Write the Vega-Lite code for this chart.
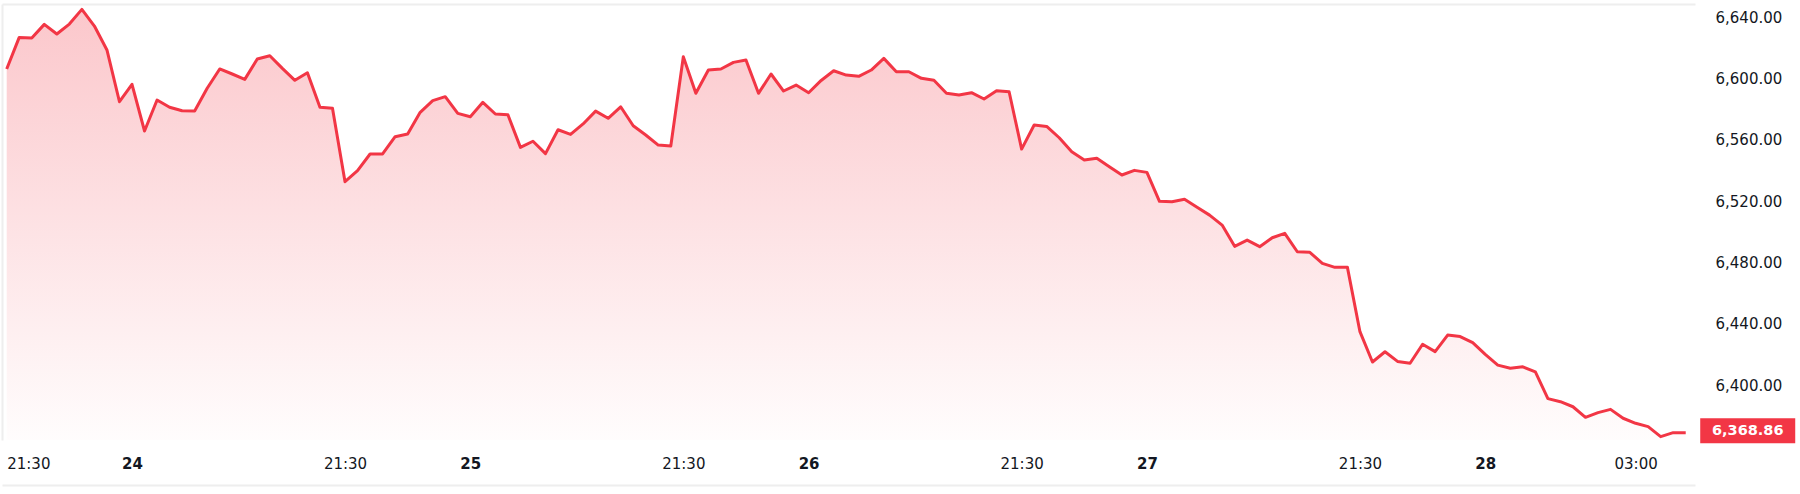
{
  "$schema": "https://vega.github.io/schema/vega-lite/v6.json",
  "autosize": {"type": "none"},
  "width": 1693,
  "height": 436,
  "padding": {"left": 2, "top": 4, "right": 105, "bottom": 54},
  "background": "white",
  "config": {"view": {"stroke": null}, "font": "DejaVu Sans"},
  "data": {"values": [
    {"i":0,"v":6606.3},{"i":1,"v":6626.9},{"i":2,"v":6626.5},{"i":3,"v":6635.4},{"i":4,"v":6629.1},
    {"i":5,"v":6635.6},{"i":6,"v":6645.2},{"i":7,"v":6634.3},{"i":8,"v":6618.7},{"i":9,"v":6584.9},
    {"i":10,"v":6596.3},{"i":11,"v":6565.8},{"i":12,"v":6586.0},{"i":13,"v":6581.3},{"i":14,"v":6579.0},
    {"i":15,"v":6578.8},{"i":16,"v":6593.7},{"i":17,"v":6606.3},{"i":18,"v":6603.0},{"i":19,"v":6599.5},
    {"i":20,"v":6612.8},{"i":21,"v":6614.9},{"i":22,"v":6606.7},{"i":23,"v":6598.9},{"i":24,"v":6603.8},
    {"i":25,"v":6581.3},{"i":26,"v":6580.6},{"i":27,"v":6532.7},{"i":28,"v":6539.9},{"i":29,"v":6550.8},
    {"i":30,"v":6550.8},{"i":31,"v":6562.1},{"i":32,"v":6563.8},{"i":33,"v":6578.0},{"i":34,"v":6585.6},
    {"i":35,"v":6588.2},{"i":36,"v":6577.3},{"i":37,"v":6575.1},{"i":38,"v":6584.5},{"i":39,"v":6576.9},
    {"i":40,"v":6576.4},{"i":41,"v":6555.1},{"i":42,"v":6559.1},{"i":43,"v":6551.0},{"i":44,"v":6566.6},
    {"i":45,"v":6563.6},{"i":46,"v":6570.4},{"i":47,"v":6578.8},{"i":48,"v":6574.1},{"i":49,"v":6581.6},
    {"i":50,"v":6569.2},{"i":51,"v":6563.2},{"i":52,"v":6556.6},{"i":53,"v":6556.0},{"i":54,"v":6614.3},
    {"i":55,"v":6590.4},{"i":56,"v":6605.6},{"i":57,"v":6606.3},{"i":58,"v":6610.6},{"i":59,"v":6612.1},
    {"i":60,"v":6590.4},{"i":61,"v":6603.0},{"i":62,"v":6591.9},{"i":63,"v":6595.8},{"i":64,"v":6590.8},
    {"i":65,"v":6598.8},{"i":66,"v":6605.1},{"i":67,"v":6602.3},{"i":68,"v":6601.5},{"i":69,"v":6605.6},
    {"i":70,"v":6613.2},{"i":71,"v":6604.5},{"i":72,"v":6604.5},{"i":73,"v":6600.2},{"i":74,"v":6598.9},
    {"i":75,"v":6590.4},{"i":76,"v":6589.3},{"i":77,"v":6590.8},{"i":78,"v":6586.7},{"i":79,"v":6592.1},
    {"i":80,"v":6591.4},{"i":81,"v":6554.0},{"i":82,"v":6569.7},{"i":83,"v":6568.8},{"i":84,"v":6561.4},
    {"i":85,"v":6552.3},{"i":86,"v":6546.9},{"i":87,"v":6548.0},{"i":88,"v":6542.5},{"i":89,"v":6537.1},
    {"i":90,"v":6540.1},{"i":91,"v":6538.8},{"i":92,"v":6519.9},{"i":93,"v":6519.6},{"i":94,"v":6521.2},
    {"i":95,"v":6516.0},{"i":96,"v":6510.9},{"i":97,"v":6504.4},{"i":98,"v":6490.5},{"i":99,"v":6494.6},
    {"i":100,"v":6490.3},{"i":101,"v":6496.1},{"i":102,"v":6499.0},{"i":103,"v":6487.0},{"i":104,"v":6486.6},
    {"i":105,"v":6479.4},{"i":106,"v":6476.8},{"i":107,"v":6476.8},{"i":108,"v":6434.8},{"i":109,"v":6415.0},
    {"i":110,"v":6421.7},{"i":111,"v":6415.4},{"i":112,"v":6414.2},{"i":113,"v":6426.6},{"i":114,"v":6421.8},
    {"i":115,"v":6432.6},{"i":116,"v":6431.6},{"i":117,"v":6427.6},{"i":118,"v":6420.0},{"i":119,"v":6413.0},
    {"i":120,"v":6410.9},{"i":121,"v":6411.9},{"i":122,"v":6408.5},{"i":123,"v":6391.1},{"i":124,"v":6389.1},
    {"i":125,"v":6385.8},{"i":126,"v":6378.9},{"i":127,"v":6382.0},{"i":128,"v":6384.1},{"i":129,"v":6378.3},
    {"i":130,"v":6375.0},{"i":131,"v":6372.8},{"i":132,"v":6366.3},{"i":133,"v":6368.9},{"i":134,"v":6368.86}
  ]},
  "layer": [
    {
      "mark": {"type": "area", "line": false, "color": {"gradient": "linear", "x1": 0, "y1": 0, "x2": 0, "y2": 1, "stops": [{"offset": 0, "color": "rgba(242,54,69,0.28)"}, {"offset": 1, "color": "rgba(242,54,69,0.01)"}]}},
      "encoding": {
        "x": {"field": "i", "type": "quantitative", "scale": {"domain": [-0.375, 134.74], "nice": false, "zero": false},
          "axis": {"orient": "bottom", "title": null, "grid": false, "ticks": false, "tickSize": 0, "offset": 45, "domain": true, "domainColor": "#eeeeee", "domainWidth": 2,
            "values": [0, 10, 27, 37, 54, 64, 81, 91, 108, 118, 130],
            "labelExpr": "datum.value == 10 ? '24' : datum.value == 37 ? '25' : datum.value == 64 ? '26' : datum.value == 91 ? '27' : datum.value == 118 ? '28' : datum.value == 130 ? '03:00' : '21:30'",
            "labelFont": "DejaVu Sans", "labelFontSize": 15, "labelColor": "#131722", "labelPadding": -29, "labelOverlap": false, "labelBound": false, "labelFlush": 10,
            "labelFontWeight": {"condition": {"test": "indexof([10, 37, 64, 91, 118], datum.value) >= 0", "value": "bold"}, "value": "normal"}}},
        "y": {"field": "v", "type": "quantitative", "scale": {"domain": [6364.1, 6648.7], "nice": false, "zero": false},
          "axis": {"orient": "right", "title": null, "grid": false, "ticks": false, "tickSize": 0, "domain": false,
            "values": [6400, 6440, 6480, 6520, 6560, 6600, 6640], "format": ",.2f",
            "labelFont": "DejaVu Sans", "labelFontSize": 15, "labelColor": "#131722", "labelPadding": 20, "labelAlign": "left", "labelOverlap": false, "labelBound": false, "labelFlush": false}},
        "y2": {"datum": 6364.1}
      }
    },
    {
      "mark": {"type": "line", "color": "#f23645", "strokeWidth": 3, "strokeJoin": "round"},
      "encoding": {
        "x": {"field": "i", "type": "quantitative", "scale": {"domain": [-0.375, 134.74], "nice": false, "zero": false}, "axis": null},
        "y": {"field": "v", "type": "quantitative", "scale": {"domain": [6364.1, 6648.7], "nice": false, "zero": false}, "axis": null}
      }
    },
    {
      "transform": [{"filter": "datum.i == 134"}],
      "mark": {"type": "point", "shape": "M-1,-0.263H1V0.263H-1Z", "size": 9025, "filled": true, "color": "#f23645", "opacity": 1, "strokeWidth": 0, "xOffset": 62, "yOffset": -2},
      "encoding": {
        "x": {"field": "i", "type": "quantitative", "scale": {"domain": [-0.375, 134.74], "nice": false, "zero": false},
          "axis": {"orient": "top", "title": null, "labels": false, "ticks": false, "grid": false, "domain": true, "domainColor": "#eeeeee", "domainWidth": 2}},
        "y": {"field": "v", "type": "quantitative", "scale": {"domain": [6364.1, 6648.7], "nice": false, "zero": false},
          "axis": {"orient": "left", "title": null, "labels": false, "ticks": false, "grid": false, "domain": true, "domainColor": "#eeeeee", "domainWidth": 2}}
      }
    },
    {
      "transform": [{"filter": "datum.i == 134"}],
      "mark": {"type": "text", "color": "white", "font": "DejaVu Sans", "fontSize": 14.5, "fontWeight": "bold", "align": "center", "baseline": "middle", "xOffset": 62, "yOffset": -1.5},
      "encoding": {
        "x": {"field": "i", "type": "quantitative", "scale": {"domain": [-0.375, 134.74], "nice": false, "zero": false}, "axis": null},
        "y": {"field": "v", "type": "quantitative", "scale": {"domain": [6364.1, 6648.7], "nice": false, "zero": false}, "axis": null},
        "text": {"field": "v", "type": "quantitative", "format": ",.2f"}
      }
    }
  ],
  "resolve": {"axis": {"x": "independent", "y": "independent"}}
}
